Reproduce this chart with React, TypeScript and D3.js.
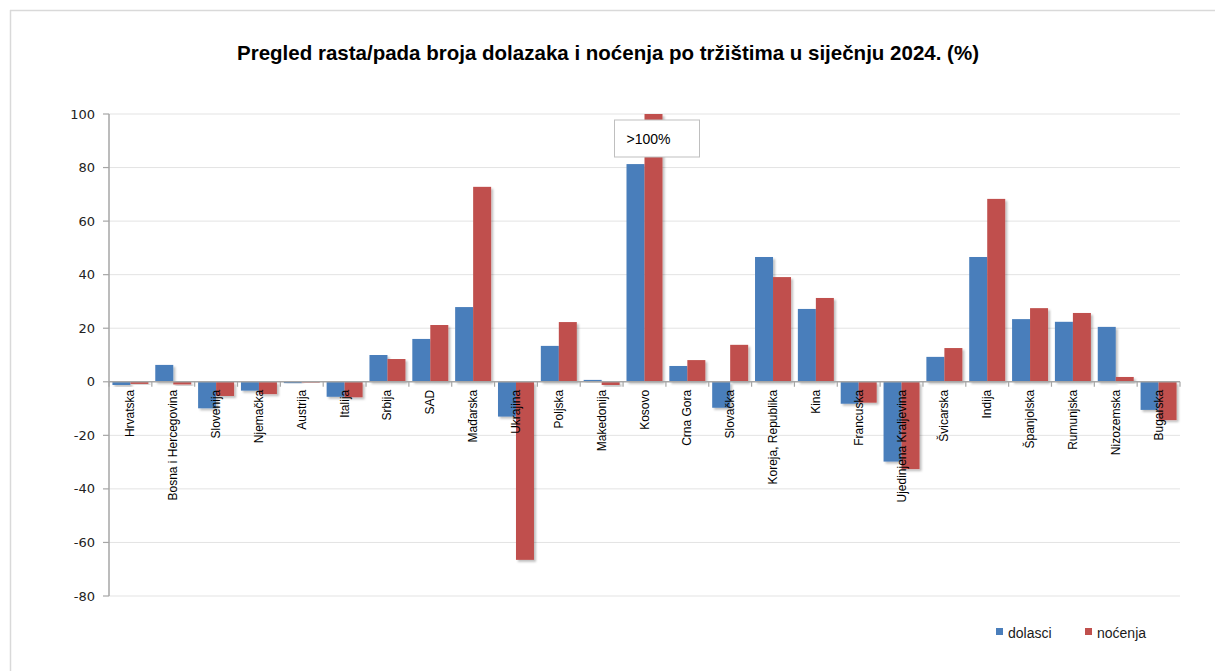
import React from "react";
import * as d3 from "d3";

const categories = [
  "Hrvatska", "Bosna i Hercegovina", "Slovenija", "Njemačka", "Austrija", "Italija",
  "Srbija", "SAD", "Mađarska", "Ukrajina", "Poljska", "Makedonija", "Kosovo",
  "Crna Gora", "Slovačka", "Koreja, Republika", "Kina", "Francuska",
  "Ujedinjena Kraljevina", "Švicarska", "Indija", "Španjolska", "Rumunjska",
  "Nizozemska", "Bugarska",
];
const dolasci = [
  -1.2, 6.3, -9.9, -3.3, -0.5, -5.6, 10.0, 16.0, 27.9, -13.0, 13.4, 0.7, 81.3,
  5.9, -9.7, 46.6, 27.2, -8.2, -29.8, 9.3, 46.6, 23.4, 22.4, 20.5, -10.5,
];
// Kosovo noćenja is >100% and shown clipped at the axis maximum
const nocenja = [
  -0.8, -1.0, -5.3, -4.6, -0.3, -5.8, 8.5, 21.2, 72.8, -66.5, 22.3, -1.2, 100,
  8.1, 13.8, 39.1, 31.3, -7.8, -32.6, 12.6, 68.3, 27.5, 25.7, 1.8, -14.3,
];
const yTicks = [100, 80, 60, 40, 20, 0, -20, -40, -60, -80];
const seriesNames = ["dolasci", "noćenja"];
const seriesColors = ["#4A7EBB", "#C0504D"];
const title = "Pregled rasta/pada broja dolazaka i noćenja po tržištima u siječnju 2024. (%)";
const calloutText = ">100%";

export default function App() {
  const W = 1215, H = 671;
  const left = 109, right = 1180, top = 114, bottom = 596;
  const y = d3.scaleLinear().domain([-80, 100]).range([bottom, top]);
  const x = d3.scaleBand<string>().domain(categories).range([left, right]).paddingInner(0).paddingOuter(0);
  const bw = x.bandwidth();
  const inner = d3.scaleBand<number>().domain([0, 1]).range([bw * 0.08, bw * 0.92]).padding(0);
  const y0 = y(0);
  const series = [dolasci, nocenja];
  const kosovoX = (x("Kosovo") ?? 0) + bw / 2;

  return (
    <svg width={W} height={H} style={{ position: "absolute", left: 0, top: 0, background: "#fff" }}
      fontFamily="Liberation Sans, Arial, sans-serif">
      <defs>
        <filter id="sh" x="-20%" y="-20%" width="160%" height="160%">
          <feDropShadow dx="2" dy="2" stdDeviation="1.2" floodColor="#000" floodOpacity="0.25" />
        </filter>
      </defs>
      <rect x={0} y={0} width={W} height={H} fill="#fff" />
      <line x1={10} y1={10.5} x2={W} y2={10.5} stroke="#d9d9d9" strokeWidth={1.5} />
      <line x1={10.5} y1={10} x2={10.5} y2={H} stroke="#d9d9d9" strokeWidth={1.5} />

      <text x={608} y={60} textAnchor="middle" fontWeight="bold" fontSize={21}
        textLength={742} lengthAdjust="spacingAndGlyphs" fill="#000">{title}</text>

      {yTicks.map((t) => (
        <g key={t}>
          {t !== 0 && (
            <line x1={left} x2={right} y1={y(t)} y2={y(t)} stroke="#e3e3e3" strokeWidth={1} />
          )}
          <line x1={left - 6} x2={left} y1={y(t)} y2={y(t)} stroke="#a6a6a6" strokeWidth={1.2} />
          <text x={95} y={y(t) + 4.5} textAnchor="end" fontSize={13}
            fontFamily="DejaVu Sans, Verdana, sans-serif" fill="#222">{t}</text>
        </g>
      ))}

      {categories.map((c, i) => (
        <g key={c}>
          {series.map((s, k) => {
            const v = s[i];
            const yy = Math.min(y(v), y0);
            const h = Math.abs(y(v) - y0);
            return (
              <rect key={k} x={(x(c) ?? 0) + (inner(k) ?? 0)} y={yy} width={inner.bandwidth()}
                height={Math.max(h, 0.8)} fill={seriesColors[k]} filter="url(#sh)" />
            );
          })}
        </g>
      ))}

      <line x1={left} x2={left} y1={top} y2={bottom} stroke="#a6a6a6" strokeWidth={1.5} />
      <line x1={left} x2={right} y1={y0} y2={y0} stroke="#a6a6a6" strokeWidth={1.5} />
      {d3.range(categories.length + 1).map((i) => {
        const xx = left + i * bw;
        return <line key={i} x1={xx} x2={xx} y1={y0} y2={y0 + 5} stroke="#a6a6a6" strokeWidth={1.2} />;
      })}

      {categories.map((c) => {
        const cx = (x(c) ?? 0) + bw / 2;
        return (
          <text key={c} transform={`translate(${cx + 4},${y0 + 8}) rotate(-90)`} textAnchor="end"
            fontSize={12} fill="#000">{c}</text>
        );
      })}

      <rect x={kosovoX - 30} y={120} width={85} height={37} fill="#fff" stroke="#bfbfbf" strokeWidth={1} />
      <text x={kosovoX - 18} y={144} fontSize={14} fill="#000">{calloutText}</text>

      {seriesNames.map((n, k) => {
        const lx = [996, 1085][k];
        return (
          <g key={n}>
            <rect x={lx} y={628} width={7} height={7} fill={seriesColors[k]} />
            <text x={lx + 12} y={638} fontSize={14} fill="#1a1a1a">{n}</text>
          </g>
        );
      })}
    </svg>
  );
}
